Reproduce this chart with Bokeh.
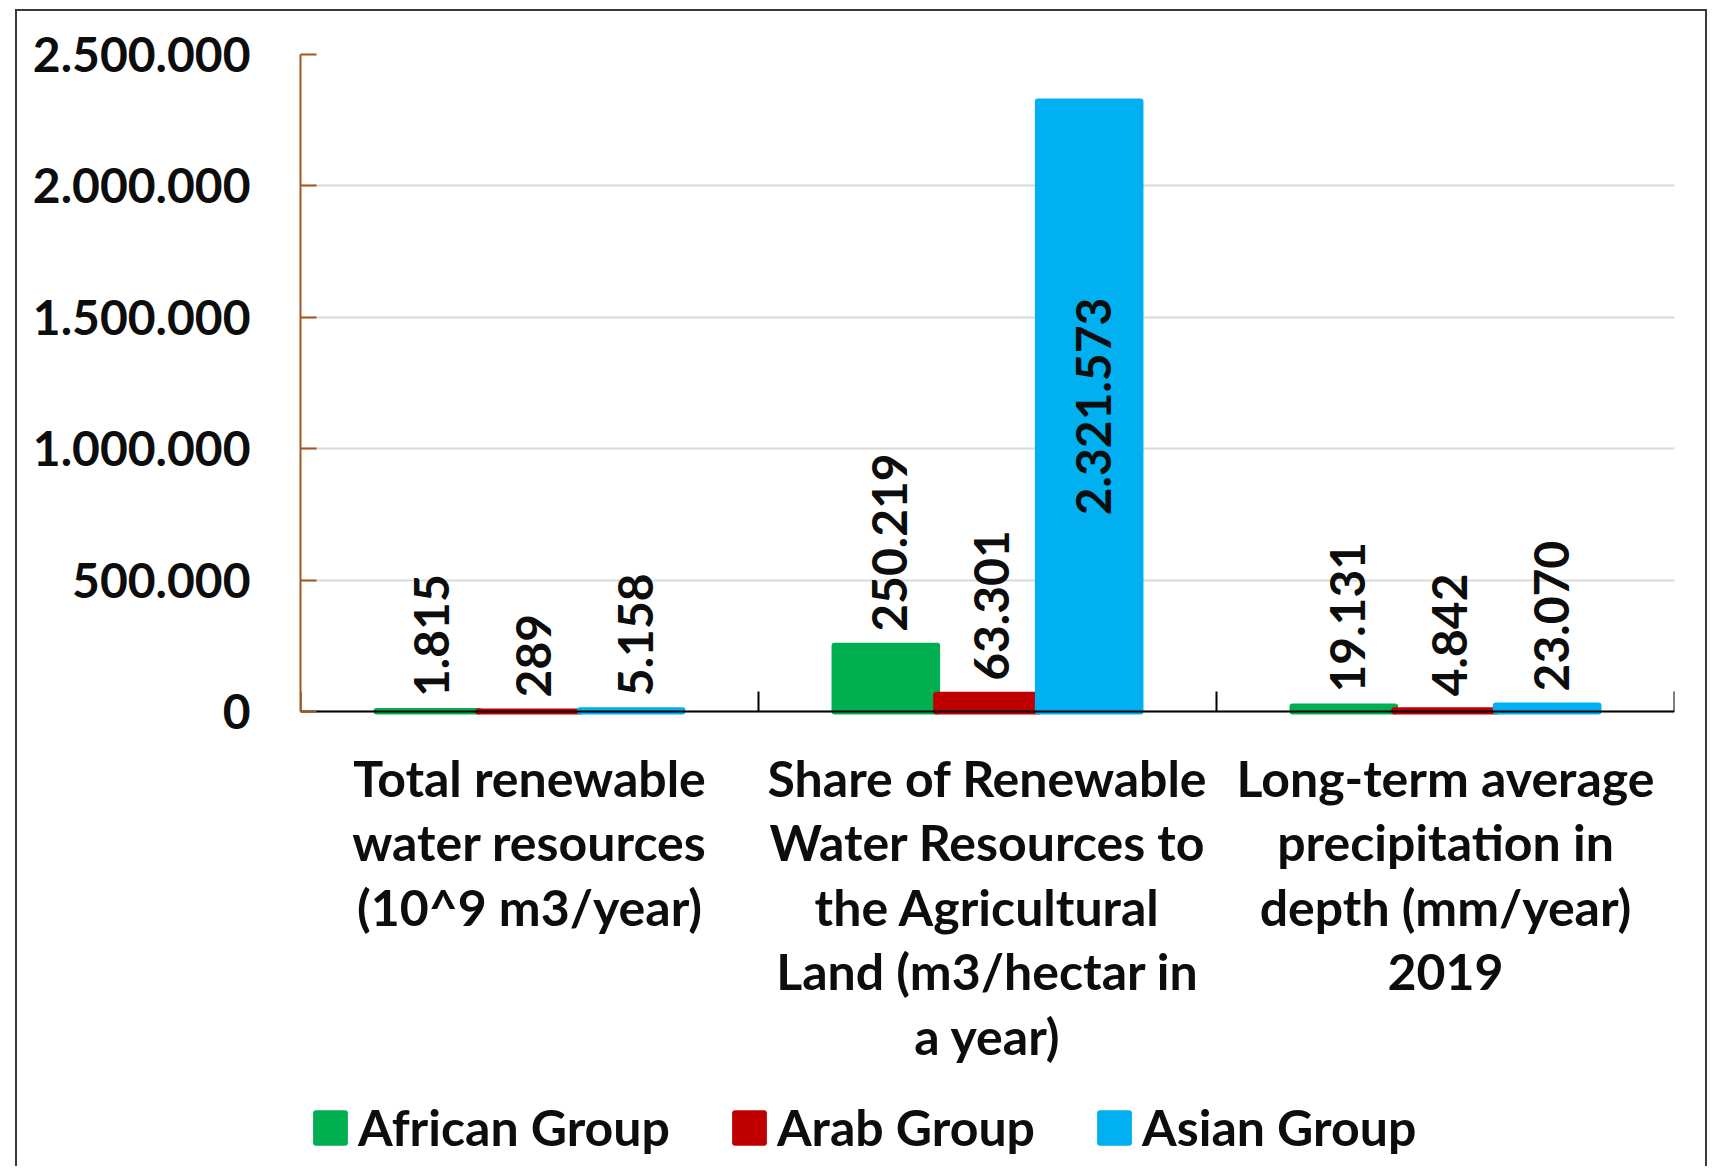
import numpy as np
from bokeh.plotting import figure
from bokeh.models import (ColumnDataSource, Range1d, FixedTicker, Legend, LegendItem,
                          LinearAxis, Grid)
from bokeh.core.properties import value
from bokeh.embed import file_html
from bokeh.resources import INLINE

# ---------------- data ----------------
categories = [
    "Total renewable\nwater resources\n(10^9 m3/year)",
    "Share of Renewable\nWater Resources to\nthe Agricultural\nLand (m3/hectar in\na year)",
    "Long-term average\nprecipitation in\ndepth (mm/year)\n2019",
]
groups = ["African Group", "Arab Group", "Asian Group"]
african = [1815, 250219, 19131]
arab = [289, 63301, 4842]
asian = [5158, 2321573, 23070]
colors = ["#00B050", "#C00000", "#00B0F0"]
y_ticks = [0, 500000, 1000000, 1500000, 2000000, 2500000]
y_tick_labels = ["0", "500.000", "1.000.000", "1.500.000", "2.000.000", "2.500.000"]
y_max = 2500000


def eu(v):
    return f"{v:,}".replace(",", ".")


FONT = "Lato"
NUM_SIZE = "48px"
TXT_SIZE = "50px"
TXT = "#0D0D0D"

# layout: the frame also holds the label/legend area below the value axis
FRAME_W = 1374
FRAME_H = 1112
PLOT_H = 657          # pixels between 0 and y_max
y_min = -y_max * (FRAME_H - PLOT_H) / PLOT_H

p = figure(frame_width=FRAME_W, frame_height=FRAME_H,
           x_range=Range1d(0, 3), y_range=Range1d(y_min, y_max),
           output_backend="svg", toolbar_location=None,
           x_axis_type=None, y_axis_type=None,
           min_border_left=283, min_border_right=31, min_border_top=43,
           min_border_bottom=0)
p.outline_line_color = None
p.styles = {"margin-left": "15px", "margin-top": "9px",
            "border-left": "2px solid #3a3a3a", "border-top": "2px solid #3a3a3a",
            "border-right": "2px solid #3a3a3a"}

yticker = FixedTicker(ticks=y_ticks, minor_ticks=[])
p.add_layout(Grid(dimension=1, ticker=yticker, grid_line_color="#D9D9D9",
                  grid_line_width=2))

# ---------------- bars ----------------
offsets = [-0.222, 0.0, 0.222]
series = [african, arab, asian]
renderers = []
above_x, above_y, above_t = [], [], []
mid_x, mid_y, mid_t = [], [], []
for j, (vals, col) in enumerate(zip(series, colors)):
    xs = [i + 0.5 + offsets[j] for i in range(len(categories))]
    src = ColumnDataSource(dict(x=xs, top=vals))
    r = p.vbar(x="x", top="top", bottom=0, width=0.224, source=src,
               fill_color=col, line_color=col, line_width=6, line_join="round")
    renderers.append(r)
    for x, v in zip(xs, vals):
        if v > 0.6 * y_max:
            mid_x.append(x); mid_y.append(v / 2); mid_t.append(eu(v))
        else:
            above_x.append(x); above_y.append(v); above_t.append(eu(v))

p.text(x=above_x, y=above_y, text=above_t, angle=np.pi / 2,
       text_align="left", text_baseline="middle", y_offset=-14, x_offset=4,
       text_font=value(FONT), text_font_style="bold", text_font_size=NUM_SIZE,
       text_color=TXT)
p.text(x=mid_x, y=mid_y, text=mid_t, angle=np.pi / 2,
       text_align="center", text_baseline="middle", x_offset=4,
       text_font=value(FONT), text_font_style="bold", text_font_size=NUM_SIZE,
       text_color=TXT)

# ---------------- axes ----------------
yaxis = LinearAxis(ticker=yticker, bounds=(0, y_max),
                   major_label_overrides=dict(zip(y_ticks, y_tick_labels)),
                   axis_line_color="#A5561E", axis_line_width=2,
                   major_tick_line_color="#A5561E", major_tick_line_width=2,
                   major_tick_in=16, major_tick_out=0,
                   minor_tick_line_color=None, major_label_standoff=50,
                   major_label_text_font=FONT, major_label_text_font_style="bold",
                   major_label_text_font_size=NUM_SIZE, major_label_text_color=TXT)
p.add_layout(yaxis, "left")

xcenters = [i + 0.5 for i in range(len(categories))]
xticker = FixedTicker(ticks=[], minor_ticks=list(range(len(categories) + 1)))
xaxis = LinearAxis(ticker=xticker, fixed_location=0,
                   axis_line_color="black", axis_line_width=2,
                   major_tick_in=0, major_tick_out=0,
                   minor_tick_in=20, minor_tick_out=0,
                   minor_tick_line_color="black", minor_tick_line_width=2,
                   major_label_text_font_size="0px", major_label_standoff=0)
p.add_layout(xaxis, "below")

# category labels under the value axis
p.text(x=xcenters, y=[0] * len(categories), text=categories,
       y_offset=36, text_align="center", text_baseline="top",
       text_font=value(FONT), text_font_style="bold", text_font_size=TXT_SIZE,
       text_color=TXT, text_line_height=1.075)

legend = Legend(items=[LegendItem(label=g, renderers=[r]) for g, r in zip(groups, renderers)],
                orientation="horizontal", location=(12, 9),
                label_text_font=FONT, label_text_font_style="bold",
                label_text_font_size=TXT_SIZE, label_text_color=TXT,
                glyph_width=36, glyph_height=37, spacing=61, label_standoff=10,
                border_line_color=None, background_fill_alpha=0, padding=0,
                margin=0)
p.add_layout(legend)

open("out.html", "w").write(file_html(p, INLINE))
